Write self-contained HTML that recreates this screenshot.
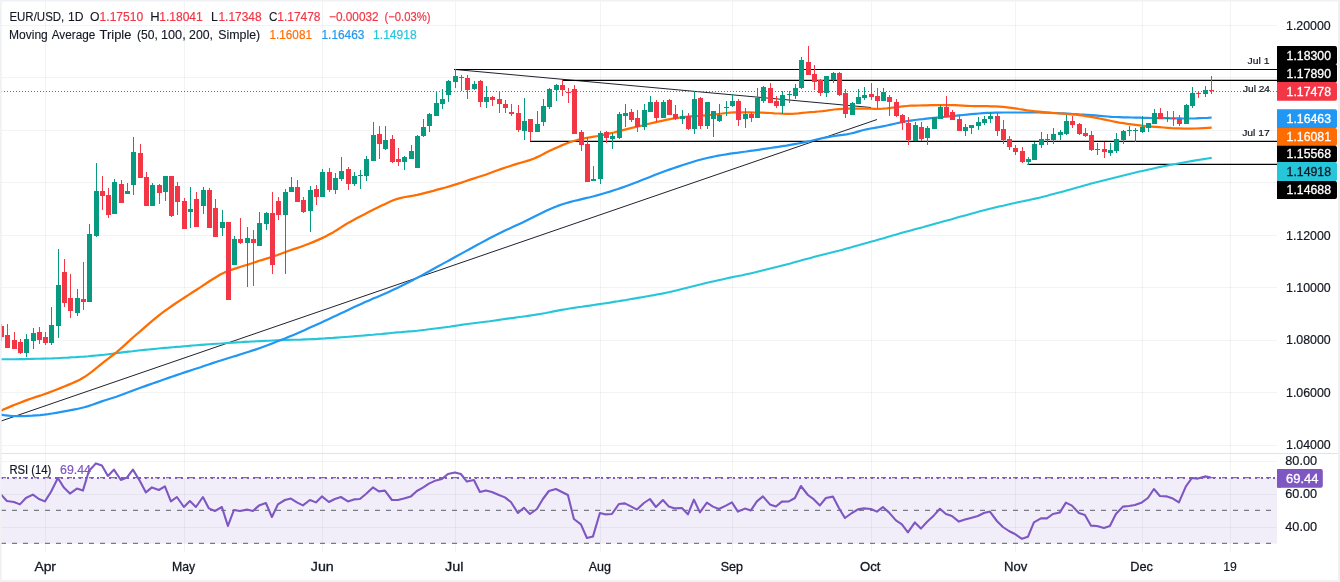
<!DOCTYPE html>
<html><head><meta charset="utf-8"><title>EUR/USD</title>
<style>html,body{margin:0;padding:0;background:#fff;overflow:hidden}body{width:1340px;height:582px;font-family:"Liberation Sans",sans-serif}</style></head>
<body>
<svg width="1340" height="582" viewBox="0 0 1340 582" style="display:block">
<rect x="0" y="0" width="1340" height="582" fill="#ffffff"/>
<rect x="0" y="478.0" width="1277" height="65.6" fill="#f2eef9"/>
<g shape-rendering="crispEdges">
<rect x="45" y="0" width="1" height="552" fill="#2a2e39" fill-opacity="0.06"/>
<rect x="184" y="0" width="1" height="552" fill="#2a2e39" fill-opacity="0.06"/>
<rect x="322" y="0" width="1" height="552" fill="#2a2e39" fill-opacity="0.06"/>
<rect x="455" y="0" width="1" height="552" fill="#2a2e39" fill-opacity="0.06"/>
<rect x="600" y="0" width="1" height="552" fill="#2a2e39" fill-opacity="0.06"/>
<rect x="732" y="0" width="1" height="552" fill="#2a2e39" fill-opacity="0.06"/>
<rect x="871" y="0" width="1" height="552" fill="#2a2e39" fill-opacity="0.06"/>
<rect x="1015" y="0" width="1" height="552" fill="#2a2e39" fill-opacity="0.06"/>
<rect x="1142" y="0" width="1" height="552" fill="#2a2e39" fill-opacity="0.06"/>
<rect x="1230" y="0" width="1" height="552" fill="#2a2e39" fill-opacity="0.06"/>
<rect x="0" y="25" width="1277" height="1" fill="#2a2e39" fill-opacity="0.06"/>
<rect x="0" y="77" width="1277" height="1" fill="#2a2e39" fill-opacity="0.06"/>
<rect x="0" y="130" width="1277" height="1" fill="#2a2e39" fill-opacity="0.06"/>
<rect x="0" y="182" width="1277" height="1" fill="#2a2e39" fill-opacity="0.06"/>
<rect x="0" y="235" width="1277" height="1" fill="#2a2e39" fill-opacity="0.06"/>
<rect x="0" y="287" width="1277" height="1" fill="#2a2e39" fill-opacity="0.06"/>
<rect x="0" y="340" width="1277" height="1" fill="#2a2e39" fill-opacity="0.06"/>
<rect x="0" y="392" width="1277" height="1" fill="#2a2e39" fill-opacity="0.06"/>
<rect x="0" y="445" width="1277" height="1" fill="#2a2e39" fill-opacity="0.06"/>
<rect x="0" y="461" width="1277" height="1" fill="#2a2e39" fill-opacity="0.06"/>
<rect x="0" y="494" width="1277" height="1" fill="#2a2e39" fill-opacity="0.06"/>
<rect x="0" y="527" width="1277" height="1" fill="#2a2e39" fill-opacity="0.06"/>
<rect x="0" y="453" width="1340" height="1" fill="#e0e3eb"/>
</g>
<line x1="0" y1="421.4" x2="877" y2="119.5" stroke="#1e222d" stroke-width="1.0"/>
<line x1="454" y1="69.4" x2="871" y2="107.5" stroke="#1e222d" stroke-width="1.0"/>
<line x1="454" y1="69.46" x2="1277" y2="69.46" stroke="#000" stroke-width="1.17"/>
<line x1="562" y1="80.44" x2="1277" y2="80.44" stroke="#000" stroke-width="1.17"/>
<line x1="530" y1="141.45" x2="1277" y2="141.45" stroke="#000" stroke-width="1.17"/>
<line x1="1027.5" y1="164.45" x2="1277" y2="164.45" stroke="#000" stroke-width="1.17"/>
<polyline points="0.0,359.3 4.0,359.3 8.0,359.2 12.0,359.2 16.0,359.2 20.1,359.1 24.1,359.1 28.1,359.0 32.1,358.9 36.1,358.8 40.1,358.7 44.1,358.6 48.1,358.5 52.2,358.4 56.2,358.2 60.2,358.0 64.2,357.8 68.2,357.6 72.2,357.3 76.2,357.1 80.2,356.8 84.3,356.6 88.3,356.3 92.3,355.9 96.3,355.5 100.3,355.1 104.3,354.7 108.3,354.2 112.3,353.7 116.4,353.1 120.4,352.6 124.4,352.1 128.4,351.6 132.4,351.2 136.4,350.7 140.4,350.3 144.4,349.9 148.5,349.5 152.5,349.1 156.5,348.7 160.5,348.3 164.5,347.9 168.5,347.6 172.5,347.2 176.5,346.9 180.6,346.6 184.6,346.2 188.6,345.9 192.6,345.5 196.6,345.2 200.6,344.9 204.6,344.6 208.6,344.3 212.6,344.0 216.7,343.7 220.7,343.5 224.7,343.2 228.7,342.9 232.7,342.7 236.7,342.4 240.7,342.2 244.7,341.9 248.8,341.7 252.8,341.5 256.8,341.3 260.8,341.1 264.8,340.9 268.8,340.7 272.8,340.5 276.8,340.3 280.9,340.2 284.9,340.0 288.9,339.9 292.9,339.8 296.9,339.7 300.9,339.6 304.9,339.4 308.9,339.3 313.0,339.1 317.0,338.9 321.0,338.6 325.0,338.4 329.0,338.1 333.0,337.9 337.0,337.6 341.0,337.3 345.1,337.0 349.1,336.7 353.1,336.4 357.1,336.0 361.1,335.7 365.1,335.4 369.1,335.0 373.1,334.7 377.2,334.3 381.2,334.0 385.2,333.6 389.2,333.2 393.2,332.8 397.2,332.4 401.2,332.1 405.2,331.7 409.2,331.4 413.3,331.1 417.3,330.7 421.3,330.2 425.3,329.8 429.3,329.3 433.3,328.8 437.3,328.3 441.3,327.8 445.4,327.2 449.4,326.7 453.4,326.1 457.4,325.5 461.4,324.9 465.4,324.3 469.4,323.8 473.4,323.3 477.5,322.8 481.5,322.3 485.5,321.8 489.5,321.3 493.5,320.7 497.5,320.1 501.5,319.5 505.5,318.9 509.6,318.4 513.6,317.9 517.6,317.3 521.6,316.8 525.6,316.2 529.6,315.6 533.6,315.0 537.6,314.4 541.7,313.7 545.7,313.0 549.7,312.2 553.7,311.4 557.7,310.6 561.7,309.9 565.7,309.2 569.7,308.5 573.8,307.9 577.8,307.2 581.8,306.7 585.8,306.1 589.8,305.6 593.8,305.0 597.8,304.4 601.8,303.8 605.9,303.2 609.9,302.6 613.9,301.9 617.9,301.3 621.9,300.6 625.9,300.0 629.9,299.3 633.9,298.6 637.9,297.9 642.0,297.2 646.0,296.5 650.0,295.8 654.0,295.1 658.0,294.3 662.0,293.6 666.0,292.8 670.0,291.9 674.1,291.0 678.1,290.1 682.1,289.1 686.1,288.1 690.1,287.1 694.1,286.1 698.1,285.1 702.1,284.1 706.2,283.1 710.2,282.1 714.2,281.2 718.2,280.3 722.2,279.4 726.2,278.5 730.2,277.6 734.2,276.8 738.3,276.0 742.3,275.2 746.3,274.3 750.3,273.4 754.3,272.5 758.3,271.5 762.3,270.6 766.3,269.6 770.4,268.6 774.4,267.6 778.4,266.6 782.4,265.5 786.4,264.4 790.4,263.4 794.4,262.3 798.4,261.2 802.5,260.1 806.5,259.0 810.5,257.9 814.5,256.8 818.5,255.7 822.5,254.7 826.5,253.8 830.5,252.8 834.5,251.8 838.6,250.8 842.6,249.7 846.6,248.6 850.6,247.5 854.6,246.3 858.6,245.2 862.6,244.1 866.6,243.0 870.7,241.8 874.7,240.7 878.7,239.5 882.7,238.4 886.7,237.2 890.7,236.1 894.7,234.9 898.7,233.8 902.8,232.6 906.8,231.5 910.8,230.4 914.8,229.3 918.8,228.2 922.8,227.2 926.8,226.1 930.8,225.0 934.9,223.8 938.9,222.7 942.9,221.6 946.9,220.5 950.9,219.4 954.9,218.2 958.9,217.1 962.9,216.0 967.0,214.9 971.0,213.8 975.0,212.7 979.0,211.6 983.0,210.6 987.0,209.6 991.0,208.6 995.0,207.6 999.1,206.6 1003.1,205.7 1007.1,204.7 1011.1,203.8 1015.1,202.9 1019.1,202.0 1023.1,201.2 1027.1,200.4 1031.1,199.5 1035.2,198.6 1039.2,197.7 1043.2,196.7 1047.2,195.7 1051.2,194.6 1055.2,193.6 1059.2,192.5 1063.2,191.4 1067.3,190.3 1071.3,189.2 1075.3,188.1 1079.3,187.0 1083.3,185.8 1087.3,184.7 1091.3,183.6 1095.3,182.5 1099.4,181.5 1103.4,180.4 1107.4,179.4 1111.4,178.4 1115.4,177.4 1119.4,176.4 1123.4,175.4 1127.4,174.5 1131.5,173.5 1135.5,172.5 1139.5,171.6 1143.5,170.7 1147.5,169.8 1151.5,168.9 1155.5,168.0 1159.5,167.1 1163.6,166.3 1167.6,165.5 1171.6,164.7 1175.6,164.0 1179.6,163.2 1183.6,162.5 1187.6,161.8 1191.6,161.1 1195.7,160.4 1199.7,159.7 1203.7,159.1 1207.7,158.5 1211.7,157.9" fill="none" stroke="#26C6DA" stroke-width="2.1" stroke-linejoin="round" stroke-linecap="butt"/>
<polyline points="0.0,414.7 4.0,415.2 8.0,415.6 12.0,416.0 16.0,416.2 20.1,416.2 24.1,416.1 28.1,415.9 32.1,415.7 36.1,415.4 40.1,415.1 44.1,414.7 48.1,414.2 52.2,413.5 56.2,412.8 60.2,412.1 64.2,411.4 68.2,410.7 72.2,409.9 76.2,409.2 80.2,408.3 84.3,407.3 88.3,406.1 92.3,404.8 96.3,403.4 100.3,401.9 104.3,400.5 108.3,399.2 112.3,398.0 116.4,396.7 120.4,395.3 124.4,393.8 128.4,392.3 132.4,390.7 136.4,389.2 140.4,387.8 144.4,386.4 148.5,384.9 152.5,383.5 156.5,382.1 160.5,380.7 164.5,379.3 168.5,377.9 172.5,376.5 176.5,375.1 180.6,373.8 184.6,372.4 188.6,371.1 192.6,369.8 196.6,368.5 200.6,367.2 204.6,365.8 208.6,364.5 212.6,363.1 216.7,361.8 220.7,360.5 224.7,359.3 228.7,358.0 232.7,356.8 236.7,355.6 240.7,354.3 244.7,353.0 248.8,351.7 252.8,350.4 256.8,349.1 260.8,347.7 264.8,346.3 268.8,344.8 272.8,343.2 276.8,341.6 280.9,340.0 284.9,338.5 288.9,336.8 292.9,335.2 296.9,333.5 300.9,331.7 304.9,329.9 308.9,328.1 313.0,326.3 317.0,324.5 321.0,322.7 325.0,320.8 329.0,319.0 333.0,317.1 337.0,315.2 341.0,313.3 345.1,311.4 349.1,309.5 353.1,307.6 357.1,305.7 361.1,303.9 365.1,302.1 369.1,300.4 373.1,298.6 377.2,297.0 381.2,295.3 385.2,293.5 389.2,291.7 393.2,289.8 397.2,287.9 401.2,285.9 405.2,283.9 409.2,281.9 413.3,279.9 417.3,277.8 421.3,275.6 425.3,273.4 429.3,271.2 433.3,269.0 437.3,266.8 441.3,264.6 445.4,262.4 449.4,260.2 453.4,258.0 457.4,255.8 461.4,253.6 465.4,251.4 469.4,249.2 473.4,247.0 477.5,244.8 481.5,242.6 485.5,240.5 489.5,238.3 493.5,236.3 497.5,234.3 501.5,232.3 505.5,230.3 509.6,228.4 513.6,226.6 517.6,224.8 521.6,222.9 525.6,221.0 529.6,219.1 533.6,217.1 537.6,215.1 541.7,213.1 545.7,211.1 549.7,209.2 553.7,207.5 557.7,205.9 561.7,204.5 565.7,203.3 569.7,202.1 573.8,201.0 577.8,200.1 581.8,199.1 585.8,198.1 589.8,197.2 593.8,196.2 597.8,195.1 601.8,194.0 605.9,192.8 609.9,191.6 613.9,190.3 617.9,189.0 621.9,187.6 625.9,186.2 629.9,184.7 633.9,183.2 637.9,181.7 642.0,180.1 646.0,178.5 650.0,176.9 654.0,175.3 658.0,173.8 662.0,172.3 666.0,170.8 670.0,169.4 674.1,168.0 678.1,166.6 682.1,165.3 686.1,164.0 690.1,162.7 694.1,161.5 698.1,160.3 702.1,159.2 706.2,158.2 710.2,157.3 714.2,156.5 718.2,155.7 722.2,155.0 726.2,154.4 730.2,153.7 734.2,153.1 738.3,152.6 742.3,152.0 746.3,151.5 750.3,150.9 754.3,150.4 758.3,149.8 762.3,149.2 766.3,148.6 770.4,148.0 774.4,147.4 778.4,146.8 782.4,146.2 786.4,145.6 790.4,144.9 794.4,144.2 798.4,143.5 802.5,142.7 806.5,141.9 810.5,141.0 814.5,140.0 818.5,139.0 822.5,138.1 826.5,137.3 830.5,136.6 834.5,136.0 838.6,135.4 842.6,134.9 846.6,134.3 850.6,133.5 854.6,132.6 858.6,131.4 862.6,130.3 866.6,129.3 870.7,128.5 874.7,127.8 878.7,127.1 882.7,126.3 886.7,125.5 890.7,124.6 894.7,123.7 898.7,122.8 902.8,122.0 906.8,121.2 910.8,120.6 914.8,120.0 918.8,119.5 922.8,119.1 926.8,118.6 930.8,118.2 934.9,117.8 938.9,117.4 942.9,117.0 946.9,116.6 950.9,116.2 954.9,115.8 958.9,115.4 962.9,115.0 967.0,114.6 971.0,114.2 975.0,113.8 979.0,113.5 983.0,113.2 987.0,112.9 991.0,112.8 995.0,112.6 999.1,112.6 1003.1,112.5 1007.1,112.5 1011.1,112.5 1015.1,112.5 1019.1,112.5 1023.1,112.5 1027.1,112.5 1031.1,112.5 1035.2,112.5 1039.2,112.5 1043.2,112.6 1047.2,112.7 1051.2,112.8 1055.2,113.0 1059.2,113.2 1063.2,113.3 1067.3,113.5 1071.3,113.8 1075.3,114.0 1079.3,114.3 1083.3,114.5 1087.3,114.8 1091.3,115.1 1095.3,115.4 1099.4,115.8 1103.4,116.2 1107.4,116.5 1111.4,116.8 1115.4,117.0 1119.4,117.1 1123.4,117.3 1127.4,117.4 1131.5,117.5 1135.5,117.6 1139.5,117.7 1143.5,117.8 1147.5,117.9 1151.5,118.0 1155.5,118.1 1159.5,118.1 1163.6,118.2 1167.6,118.2 1171.6,118.3 1175.6,118.3 1179.6,118.4 1183.6,118.5 1187.6,118.5 1191.6,118.5 1195.7,118.4 1199.7,118.2 1203.7,118.0 1207.7,117.8 1211.7,117.5" fill="none" stroke="#2196F3" stroke-width="2.2" stroke-linejoin="round" stroke-linecap="butt"/>
<polyline points="0.0,411.1 4.0,409.3 8.0,407.6 12.0,405.9 16.0,404.3 20.1,402.7 24.1,401.1 28.1,399.6 32.1,398.2 36.1,396.9 40.1,395.7 44.1,394.3 48.1,392.9 52.2,391.3 56.2,389.7 60.2,388.1 64.2,386.5 68.2,384.9 72.2,383.2 76.2,381.4 80.2,379.4 84.3,377.1 88.3,374.4 92.3,371.4 96.3,368.2 100.3,364.9 104.3,361.7 108.3,358.6 112.3,355.5 116.4,352.3 120.4,348.9 124.4,345.3 128.4,341.6 132.4,338.0 136.4,334.5 140.4,331.2 144.4,327.7 148.5,324.2 152.5,320.7 156.5,317.3 160.5,314.2 164.5,311.2 168.5,308.3 172.5,305.5 176.5,302.8 180.6,300.1 184.6,297.5 188.6,294.9 192.6,292.3 196.6,289.7 200.6,287.1 204.6,284.5 208.6,281.8 212.6,279.2 216.7,276.7 220.7,274.3 224.7,272.4 228.7,270.8 232.7,269.4 236.7,268.1 240.7,266.8 244.7,265.5 248.8,264.3 252.8,263.0 256.8,261.6 260.8,260.3 264.8,259.1 268.8,257.9 272.8,256.6 276.8,255.3 280.9,253.8 284.9,252.3 288.9,250.8 292.9,249.4 296.9,248.1 300.9,246.8 304.9,245.3 308.9,243.8 313.0,242.1 317.0,240.4 321.0,238.6 325.0,236.7 329.0,234.6 333.0,232.4 337.0,230.0 341.0,227.4 345.1,224.8 349.1,222.4 353.1,220.2 357.1,218.0 361.1,215.9 365.1,213.9 369.1,211.8 373.1,209.8 377.2,207.8 381.2,205.8 385.2,203.9 389.2,202.0 393.2,200.3 397.2,198.9 401.2,197.8 405.2,197.0 409.2,196.3 413.3,195.6 417.3,194.8 421.3,193.9 425.3,192.9 429.3,191.9 433.3,190.9 437.3,189.7 441.3,188.6 445.4,187.5 449.4,186.3 453.4,185.1 457.4,183.9 461.4,182.6 465.4,181.2 469.4,179.9 473.4,178.6 477.5,177.3 481.5,176.0 485.5,174.7 489.5,173.2 493.5,171.7 497.5,170.3 501.5,168.9 505.5,167.5 509.6,166.2 513.6,164.9 517.6,163.7 521.6,162.5 525.6,161.4 529.6,160.1 533.6,158.7 537.6,156.9 541.7,154.9 545.7,152.8 549.7,150.8 553.7,148.9 557.7,147.2 561.7,145.4 565.7,143.8 569.7,142.3 573.8,141.0 577.8,139.9 581.8,138.9 585.8,138.0 589.8,137.3 593.8,136.6 597.8,136.0 601.8,135.2 605.9,134.3 609.9,133.4 613.9,132.5 617.9,131.4 621.9,130.4 625.9,129.3 629.9,128.3 633.9,127.4 637.9,126.4 642.0,125.5 646.0,124.5 650.0,123.5 654.0,122.6 658.0,121.7 662.0,120.8 666.0,119.9 670.0,119.1 674.1,118.4 678.1,117.8 682.1,117.2 686.1,116.8 690.1,116.4 694.1,116.1 698.1,115.9 702.1,115.6 706.2,115.3 710.2,115.0 714.2,114.5 718.2,114.0 722.2,113.5 726.2,113.0 730.2,112.6 734.2,112.4 738.3,112.3 742.3,112.3 746.3,112.4 750.3,112.4 754.3,112.5 758.3,112.6 762.3,112.7 766.3,112.8 770.4,113.0 774.4,113.3 778.4,113.5 782.4,113.7 786.4,113.8 790.4,113.8 794.4,113.7 798.4,113.4 802.5,112.9 806.5,112.5 810.5,112.2 814.5,111.9 818.5,111.5 822.5,111.1 826.5,110.6 830.5,110.0 834.5,109.5 838.6,109.2 842.6,108.9 846.6,108.7 850.6,108.6 854.6,108.5 858.6,108.5 862.6,108.5 866.6,108.6 870.7,108.7 874.7,108.8 878.7,108.8 882.7,108.6 886.7,108.3 890.7,107.9 894.7,107.4 898.7,106.9 902.8,106.4 906.8,106.0 910.8,105.7 914.8,105.6 918.8,105.5 922.8,105.4 926.8,105.3 930.8,105.2 934.9,105.2 938.9,105.1 942.9,105.0 946.9,105.0 950.9,105.1 954.9,105.2 958.9,105.4 962.9,105.6 967.0,105.8 971.0,106.0 975.0,106.1 979.0,106.2 983.0,106.2 987.0,106.2 991.0,106.3 995.0,106.4 999.1,106.6 1003.1,106.9 1007.1,107.3 1011.1,107.8 1015.1,108.3 1019.1,109.0 1023.1,109.6 1027.1,110.3 1031.1,110.8 1035.2,111.3 1039.2,111.7 1043.2,112.1 1047.2,112.5 1051.2,112.9 1055.2,113.2 1059.2,113.5 1063.2,113.7 1067.3,114.0 1071.3,114.3 1075.3,114.7 1079.3,115.2 1083.3,115.7 1087.3,116.3 1091.3,116.9 1095.3,117.7 1099.4,118.5 1103.4,119.3 1107.4,120.2 1111.4,121.0 1115.4,121.8 1119.4,122.6 1123.4,123.2 1127.4,123.8 1131.5,124.3 1135.5,124.8 1139.5,125.3 1143.5,125.8 1147.5,126.3 1151.5,126.6 1155.5,126.9 1159.5,127.2 1163.6,127.5 1167.6,127.8 1171.6,128.1 1175.6,128.3 1179.6,128.4 1183.6,128.6 1187.6,128.6 1191.6,128.6 1195.7,128.5 1199.7,128.3 1203.7,128.1 1207.7,127.9 1211.7,127.7" fill="none" stroke="#FF6D00" stroke-width="2.25" stroke-linejoin="round" stroke-linecap="butt"/>
<g shape-rendering="crispEdges">
<rect x="1" y="324" width="1" height="17" fill="#F23645"/>
<rect x="-1" y="326" width="5" height="11" fill="#F23645"/>
<rect x="7" y="324" width="1" height="24" fill="#F23645"/>
<rect x="5" y="335" width="5" height="13" fill="#F23645"/>
<rect x="14" y="332" width="1" height="17" fill="#F23645"/>
<rect x="12" y="340" width="5" height="9" fill="#F23645"/>
<rect x="20" y="339" width="1" height="15" fill="#F23645"/>
<rect x="18" y="342" width="5" height="11" fill="#F23645"/>
<rect x="26" y="334" width="1" height="23" fill="#089981"/>
<rect x="24" y="339" width="5" height="14" fill="#089981"/>
<rect x="33" y="328" width="1" height="21" fill="#089981"/>
<rect x="31" y="333" width="5" height="8" fill="#089981"/>
<rect x="39" y="327" width="1" height="17" fill="#F23645"/>
<rect x="37" y="332" width="5" height="8" fill="#F23645"/>
<rect x="45" y="332" width="1" height="13" fill="#F23645"/>
<rect x="43" y="337" width="5" height="6" fill="#F23645"/>
<rect x="51" y="307" width="1" height="38" fill="#089981"/>
<rect x="49" y="325" width="5" height="18" fill="#089981"/>
<rect x="58" y="249" width="1" height="89" fill="#089981"/>
<rect x="56" y="285" width="5" height="41" fill="#089981"/>
<rect x="64" y="259" width="1" height="48" fill="#F23645"/>
<rect x="62" y="272" width="5" height="31" fill="#F23645"/>
<rect x="70" y="274" width="1" height="44" fill="#F23645"/>
<rect x="68" y="298" width="5" height="13" fill="#F23645"/>
<rect x="77" y="289" width="1" height="27" fill="#089981"/>
<rect x="75" y="298" width="5" height="15" fill="#089981"/>
<rect x="83" y="262" width="1" height="48" fill="#F23645"/>
<rect x="81" y="299" width="5" height="3" fill="#F23645"/>
<rect x="89" y="224" width="1" height="78" fill="#089981"/>
<rect x="87" y="234" width="5" height="68" fill="#089981"/>
<rect x="96" y="163" width="1" height="74" fill="#089981"/>
<rect x="94" y="191" width="5" height="45" fill="#089981"/>
<rect x="102" y="176" width="1" height="34" fill="#F23645"/>
<rect x="100" y="191" width="5" height="5" fill="#F23645"/>
<rect x="108" y="188" width="1" height="30" fill="#F23645"/>
<rect x="106" y="195" width="5" height="20" fill="#F23645"/>
<rect x="114" y="179" width="1" height="35" fill="#089981"/>
<rect x="112" y="182" width="5" height="32" fill="#089981"/>
<rect x="121" y="180" width="1" height="23" fill="#F23645"/>
<rect x="119" y="184" width="5" height="19" fill="#F23645"/>
<rect x="127" y="183" width="1" height="11" fill="#089981"/>
<rect x="125" y="191" width="5" height="3" fill="#089981"/>
<rect x="133" y="137" width="1" height="58" fill="#089981"/>
<rect x="131" y="152" width="5" height="33" fill="#089981"/>
<rect x="140" y="144" width="1" height="34" fill="#F23645"/>
<rect x="138" y="153" width="5" height="25" fill="#F23645"/>
<rect x="146" y="172" width="1" height="34" fill="#F23645"/>
<rect x="144" y="177" width="5" height="29" fill="#F23645"/>
<rect x="152" y="183" width="1" height="23" fill="#089981"/>
<rect x="150" y="185" width="5" height="21" fill="#089981"/>
<rect x="159" y="184" width="1" height="20" fill="#F23645"/>
<rect x="157" y="185" width="5" height="8" fill="#F23645"/>
<rect x="165" y="176" width="1" height="25" fill="#089981"/>
<rect x="163" y="176" width="5" height="16" fill="#089981"/>
<rect x="171" y="176" width="1" height="41" fill="#F23645"/>
<rect x="169" y="176" width="5" height="40" fill="#F23645"/>
<rect x="177" y="182" width="1" height="33" fill="#F23645"/>
<rect x="175" y="186" width="5" height="16" fill="#F23645"/>
<rect x="184" y="198" width="1" height="31" fill="#F23645"/>
<rect x="182" y="201" width="5" height="28" fill="#F23645"/>
<rect x="190" y="187" width="1" height="41" fill="#089981"/>
<rect x="188" y="209" width="5" height="3" fill="#089981"/>
<rect x="196" y="192" width="1" height="35" fill="#F23645"/>
<rect x="194" y="199" width="5" height="28" fill="#F23645"/>
<rect x="203" y="187" width="1" height="27" fill="#089981"/>
<rect x="201" y="190" width="5" height="16" fill="#089981"/>
<rect x="209" y="188" width="1" height="40" fill="#F23645"/>
<rect x="207" y="190" width="5" height="38" fill="#F23645"/>
<rect x="215" y="199" width="1" height="38" fill="#F23645"/>
<rect x="213" y="208" width="5" height="29" fill="#F23645"/>
<rect x="222" y="210" width="1" height="26" fill="#089981"/>
<rect x="220" y="222" width="5" height="6" fill="#089981"/>
<rect x="228" y="222" width="1" height="78" fill="#F23645"/>
<rect x="226" y="222" width="5" height="78" fill="#F23645"/>
<rect x="234" y="236" width="1" height="29" fill="#089981"/>
<rect x="232" y="239" width="5" height="26" fill="#089981"/>
<rect x="240" y="218" width="1" height="26" fill="#F23645"/>
<rect x="238" y="239" width="5" height="4" fill="#F23645"/>
<rect x="247" y="227" width="1" height="60" fill="#089981"/>
<rect x="245" y="238" width="5" height="5" fill="#089981"/>
<rect x="253" y="230" width="1" height="56" fill="#F23645"/>
<rect x="251" y="239" width="5" height="4" fill="#F23645"/>
<rect x="259" y="212" width="1" height="34" fill="#089981"/>
<rect x="257" y="223" width="5" height="23" fill="#089981"/>
<rect x="266" y="212" width="1" height="18" fill="#089981"/>
<rect x="264" y="213" width="5" height="11" fill="#089981"/>
<rect x="272" y="192" width="1" height="82" fill="#F23645"/>
<rect x="270" y="213" width="5" height="52" fill="#F23645"/>
<rect x="278" y="197" width="1" height="23" fill="#F23645"/>
<rect x="276" y="201" width="5" height="14" fill="#F23645"/>
<rect x="285" y="189" width="1" height="85" fill="#089981"/>
<rect x="283" y="192" width="5" height="23" fill="#089981"/>
<rect x="291" y="177" width="1" height="15" fill="#089981"/>
<rect x="289" y="187" width="5" height="5" fill="#089981"/>
<rect x="297" y="180" width="1" height="22" fill="#F23645"/>
<rect x="295" y="187" width="5" height="15" fill="#F23645"/>
<rect x="303" y="197" width="1" height="16" fill="#F23645"/>
<rect x="301" y="200" width="5" height="12" fill="#F23645"/>
<rect x="310" y="186" width="1" height="46" fill="#089981"/>
<rect x="308" y="190" width="5" height="21" fill="#089981"/>
<rect x="316" y="185" width="1" height="20" fill="#F23645"/>
<rect x="314" y="189" width="5" height="8" fill="#F23645"/>
<rect x="322" y="169" width="1" height="28" fill="#089981"/>
<rect x="320" y="172" width="5" height="25" fill="#089981"/>
<rect x="329" y="168" width="1" height="24" fill="#F23645"/>
<rect x="327" y="172" width="5" height="18" fill="#F23645"/>
<rect x="335" y="173" width="1" height="21" fill="#089981"/>
<rect x="333" y="178" width="5" height="12" fill="#089981"/>
<rect x="341" y="157" width="1" height="24" fill="#089981"/>
<rect x="339" y="171" width="5" height="8" fill="#089981"/>
<rect x="348" y="167" width="1" height="23" fill="#F23645"/>
<rect x="346" y="169" width="5" height="15" fill="#F23645"/>
<rect x="354" y="172" width="1" height="14" fill="#089981"/>
<rect x="352" y="176" width="5" height="8" fill="#089981"/>
<rect x="360" y="170" width="1" height="19" fill="#089981"/>
<rect x="358" y="175" width="5" height="1" fill="#089981"/>
<rect x="366" y="156" width="1" height="25" fill="#089981"/>
<rect x="364" y="159" width="5" height="17" fill="#089981"/>
<rect x="373" y="122" width="1" height="39" fill="#089981"/>
<rect x="371" y="135" width="5" height="26" fill="#089981"/>
<rect x="379" y="126" width="1" height="33" fill="#F23645"/>
<rect x="377" y="134" width="5" height="10" fill="#F23645"/>
<rect x="385" y="126" width="1" height="24" fill="#089981"/>
<rect x="383" y="140" width="5" height="9" fill="#089981"/>
<rect x="392" y="135" width="1" height="28" fill="#F23645"/>
<rect x="390" y="139" width="5" height="23" fill="#F23645"/>
<rect x="398" y="148" width="1" height="18" fill="#F23645"/>
<rect x="396" y="159" width="5" height="3" fill="#F23645"/>
<rect x="404" y="156" width="1" height="14" fill="#089981"/>
<rect x="402" y="157" width="5" height="5" fill="#089981"/>
<rect x="411" y="145" width="1" height="14" fill="#089981"/>
<rect x="409" y="151" width="5" height="8" fill="#089981"/>
<rect x="417" y="135" width="1" height="33" fill="#089981"/>
<rect x="415" y="136" width="5" height="32" fill="#089981"/>
<rect x="423" y="119" width="1" height="18" fill="#089981"/>
<rect x="421" y="127" width="5" height="9" fill="#089981"/>
<rect x="429" y="113" width="1" height="19" fill="#089981"/>
<rect x="427" y="114" width="5" height="12" fill="#089981"/>
<rect x="436" y="91" width="1" height="25" fill="#089981"/>
<rect x="434" y="103" width="5" height="13" fill="#089981"/>
<rect x="442" y="89" width="1" height="20" fill="#089981"/>
<rect x="440" y="99" width="5" height="5" fill="#089981"/>
<rect x="448" y="80" width="1" height="22" fill="#089981"/>
<rect x="446" y="81" width="5" height="14" fill="#089981"/>
<rect x="455" y="69" width="1" height="19" fill="#089981"/>
<rect x="453" y="76" width="5" height="6" fill="#089981"/>
<rect x="461" y="75" width="1" height="16" fill="#F23645"/>
<rect x="459" y="77" width="5" height="1" fill="#F23645"/>
<rect x="467" y="75" width="1" height="24" fill="#F23645"/>
<rect x="465" y="78" width="5" height="12" fill="#F23645"/>
<rect x="474" y="81" width="1" height="9" fill="#089981"/>
<rect x="472" y="84" width="5" height="5" fill="#089981"/>
<rect x="480" y="80" width="1" height="27" fill="#F23645"/>
<rect x="478" y="81" width="5" height="21" fill="#F23645"/>
<rect x="486" y="86" width="1" height="22" fill="#089981"/>
<rect x="484" y="97" width="5" height="5" fill="#089981"/>
<rect x="492" y="96" width="1" height="10" fill="#F23645"/>
<rect x="490" y="97" width="5" height="3" fill="#F23645"/>
<rect x="499" y="92" width="1" height="21" fill="#F23645"/>
<rect x="497" y="99" width="5" height="5" fill="#F23645"/>
<rect x="505" y="100" width="1" height="13" fill="#F23645"/>
<rect x="503" y="104" width="5" height="4" fill="#F23645"/>
<rect x="511" y="104" width="1" height="12" fill="#F23645"/>
<rect x="509" y="112" width="5" height="2" fill="#F23645"/>
<rect x="518" y="105" width="1" height="27" fill="#F23645"/>
<rect x="516" y="113" width="5" height="17" fill="#F23645"/>
<rect x="524" y="98" width="1" height="42" fill="#089981"/>
<rect x="522" y="121" width="5" height="10" fill="#089981"/>
<rect x="530" y="119" width="1" height="22" fill="#F23645"/>
<rect x="528" y="119" width="5" height="13" fill="#F23645"/>
<rect x="537" y="111" width="1" height="21" fill="#089981"/>
<rect x="535" y="124" width="5" height="8" fill="#089981"/>
<rect x="543" y="99" width="1" height="27" fill="#089981"/>
<rect x="541" y="106" width="5" height="16" fill="#089981"/>
<rect x="549" y="88" width="1" height="21" fill="#089981"/>
<rect x="547" y="89" width="5" height="18" fill="#089981"/>
<rect x="556" y="84" width="1" height="17" fill="#089981"/>
<rect x="554" y="85" width="5" height="5" fill="#089981"/>
<rect x="562" y="80" width="1" height="16" fill="#F23645"/>
<rect x="560" y="85" width="5" height="5" fill="#F23645"/>
<rect x="568" y="88" width="1" height="15" fill="#F23645"/>
<rect x="566" y="92" width="5" height="1" fill="#F23645"/>
<rect x="574" y="85" width="1" height="49" fill="#F23645"/>
<rect x="572" y="89" width="5" height="45" fill="#F23645"/>
<rect x="581" y="130" width="1" height="21" fill="#F23645"/>
<rect x="579" y="132" width="5" height="13" fill="#F23645"/>
<rect x="587" y="137" width="1" height="45" fill="#F23645"/>
<rect x="585" y="144" width="5" height="38" fill="#F23645"/>
<rect x="593" y="166" width="1" height="15" fill="#089981"/>
<rect x="591" y="179" width="5" height="2" fill="#089981"/>
<rect x="600" y="131" width="1" height="53" fill="#089981"/>
<rect x="598" y="133" width="5" height="46" fill="#089981"/>
<rect x="606" y="131" width="1" height="12" fill="#F23645"/>
<rect x="604" y="132" width="5" height="6" fill="#F23645"/>
<rect x="612" y="133" width="1" height="16" fill="#089981"/>
<rect x="610" y="136" width="5" height="3" fill="#089981"/>
<rect x="619" y="112" width="1" height="27" fill="#089981"/>
<rect x="617" y="114" width="5" height="24" fill="#089981"/>
<rect x="625" y="104" width="1" height="23" fill="#089981"/>
<rect x="623" y="113" width="5" height="3" fill="#089981"/>
<rect x="631" y="109" width="1" height="13" fill="#F23645"/>
<rect x="629" y="112" width="5" height="8" fill="#F23645"/>
<rect x="637" y="110" width="1" height="22" fill="#F23645"/>
<rect x="635" y="118" width="5" height="9" fill="#F23645"/>
<rect x="644" y="104" width="1" height="26" fill="#089981"/>
<rect x="642" y="110" width="5" height="17" fill="#089981"/>
<rect x="650" y="96" width="1" height="16" fill="#089981"/>
<rect x="648" y="102" width="5" height="10" fill="#089981"/>
<rect x="656" y="100" width="1" height="22" fill="#F23645"/>
<rect x="654" y="102" width="5" height="16" fill="#F23645"/>
<rect x="663" y="100" width="1" height="18" fill="#089981"/>
<rect x="661" y="102" width="5" height="16" fill="#089981"/>
<rect x="669" y="99" width="1" height="16" fill="#F23645"/>
<rect x="667" y="100" width="5" height="15" fill="#F23645"/>
<rect x="675" y="105" width="1" height="15" fill="#F23645"/>
<rect x="673" y="114" width="5" height="5" fill="#F23645"/>
<rect x="682" y="110" width="1" height="14" fill="#089981"/>
<rect x="680" y="116" width="5" height="3" fill="#089981"/>
<rect x="688" y="113" width="1" height="17" fill="#F23645"/>
<rect x="686" y="116" width="5" height="13" fill="#F23645"/>
<rect x="694" y="92" width="1" height="42" fill="#089981"/>
<rect x="692" y="99" width="5" height="30" fill="#089981"/>
<rect x="700" y="97" width="1" height="32" fill="#F23645"/>
<rect x="698" y="98" width="5" height="28" fill="#F23645"/>
<rect x="707" y="102" width="1" height="27" fill="#089981"/>
<rect x="705" y="102" width="5" height="24" fill="#089981"/>
<rect x="713" y="111" width="1" height="26" fill="#089981"/>
<rect x="711" y="111" width="5" height="8" fill="#089981"/>
<rect x="719" y="104" width="1" height="18" fill="#089981"/>
<rect x="717" y="115" width="5" height="6" fill="#089981"/>
<rect x="726" y="101" width="1" height="15" fill="#089981"/>
<rect x="724" y="107" width="5" height="1" fill="#089981"/>
<rect x="732" y="94" width="1" height="13" fill="#089981"/>
<rect x="730" y="101" width="5" height="5" fill="#089981"/>
<rect x="738" y="99" width="1" height="27" fill="#F23645"/>
<rect x="736" y="101" width="5" height="19" fill="#F23645"/>
<rect x="745" y="108" width="1" height="20" fill="#089981"/>
<rect x="743" y="114" width="5" height="5" fill="#089981"/>
<rect x="751" y="112" width="1" height="10" fill="#F23645"/>
<rect x="749" y="114" width="5" height="4" fill="#F23645"/>
<rect x="757" y="88" width="1" height="30" fill="#089981"/>
<rect x="755" y="98" width="5" height="20" fill="#089981"/>
<rect x="763" y="86" width="1" height="17" fill="#089981"/>
<rect x="761" y="87" width="5" height="14" fill="#089981"/>
<rect x="770" y="83" width="1" height="20" fill="#F23645"/>
<rect x="768" y="88" width="5" height="15" fill="#F23645"/>
<rect x="776" y="96" width="1" height="12" fill="#F23645"/>
<rect x="774" y="101" width="5" height="5" fill="#F23645"/>
<rect x="782" y="91" width="1" height="23" fill="#089981"/>
<rect x="780" y="95" width="5" height="11" fill="#089981"/>
<rect x="789" y="91" width="1" height="12" fill="#089981"/>
<rect x="787" y="94" width="5" height="1" fill="#089981"/>
<rect x="795" y="84" width="1" height="15" fill="#089981"/>
<rect x="793" y="88" width="5" height="8" fill="#089981"/>
<rect x="801" y="57" width="1" height="32" fill="#089981"/>
<rect x="799" y="60" width="5" height="28" fill="#089981"/>
<rect x="808" y="46" width="1" height="29" fill="#F23645"/>
<rect x="806" y="62" width="5" height="13" fill="#F23645"/>
<rect x="814" y="65" width="1" height="25" fill="#F23645"/>
<rect x="812" y="74" width="5" height="8" fill="#F23645"/>
<rect x="820" y="79" width="1" height="17" fill="#F23645"/>
<rect x="818" y="80" width="5" height="13" fill="#F23645"/>
<rect x="826" y="76" width="1" height="21" fill="#089981"/>
<rect x="824" y="76" width="5" height="17" fill="#089981"/>
<rect x="833" y="72" width="1" height="11" fill="#089981"/>
<rect x="831" y="73" width="5" height="7" fill="#089981"/>
<rect x="839" y="72" width="1" height="24" fill="#F23645"/>
<rect x="837" y="73" width="5" height="22" fill="#F23645"/>
<rect x="845" y="89" width="1" height="29" fill="#F23645"/>
<rect x="843" y="93" width="5" height="21" fill="#F23645"/>
<rect x="852" y="102" width="1" height="13" fill="#089981"/>
<rect x="850" y="103" width="5" height="12" fill="#089981"/>
<rect x="858" y="89" width="1" height="15" fill="#089981"/>
<rect x="856" y="97" width="5" height="7" fill="#089981"/>
<rect x="864" y="87" width="1" height="13" fill="#089981"/>
<rect x="862" y="95" width="5" height="3" fill="#089981"/>
<rect x="871" y="83" width="1" height="17" fill="#F23645"/>
<rect x="869" y="94" width="5" height="3" fill="#F23645"/>
<rect x="877" y="88" width="1" height="20" fill="#F23645"/>
<rect x="875" y="96" width="5" height="5" fill="#F23645"/>
<rect x="883" y="88" width="1" height="13" fill="#089981"/>
<rect x="881" y="92" width="5" height="9" fill="#089981"/>
<rect x="889" y="95" width="1" height="21" fill="#F23645"/>
<rect x="887" y="97" width="5" height="5" fill="#F23645"/>
<rect x="896" y="99" width="1" height="18" fill="#F23645"/>
<rect x="894" y="102" width="5" height="14" fill="#F23645"/>
<rect x="902" y="114" width="1" height="16" fill="#F23645"/>
<rect x="900" y="115" width="5" height="8" fill="#F23645"/>
<rect x="908" y="117" width="1" height="28" fill="#F23645"/>
<rect x="906" y="123" width="5" height="17" fill="#F23645"/>
<rect x="915" y="122" width="1" height="19" fill="#089981"/>
<rect x="913" y="125" width="5" height="16" fill="#089981"/>
<rect x="921" y="122" width="1" height="19" fill="#F23645"/>
<rect x="919" y="127" width="5" height="12" fill="#F23645"/>
<rect x="927" y="126" width="1" height="19" fill="#089981"/>
<rect x="925" y="128" width="5" height="10" fill="#089981"/>
<rect x="934" y="117" width="1" height="12" fill="#089981"/>
<rect x="932" y="117" width="5" height="12" fill="#089981"/>
<rect x="940" y="105" width="1" height="14" fill="#089981"/>
<rect x="938" y="107" width="5" height="12" fill="#089981"/>
<rect x="946" y="96" width="1" height="21" fill="#F23645"/>
<rect x="944" y="107" width="5" height="10" fill="#F23645"/>
<rect x="952" y="110" width="1" height="10" fill="#F23645"/>
<rect x="950" y="112" width="5" height="8" fill="#F23645"/>
<rect x="959" y="115" width="1" height="16" fill="#F23645"/>
<rect x="957" y="119" width="5" height="12" fill="#F23645"/>
<rect x="965" y="124" width="1" height="12" fill="#089981"/>
<rect x="963" y="127" width="5" height="4" fill="#089981"/>
<rect x="971" y="125" width="1" height="9" fill="#089981"/>
<rect x="969" y="125" width="5" height="3" fill="#089981"/>
<rect x="978" y="117" width="1" height="13" fill="#089981"/>
<rect x="976" y="122" width="5" height="4" fill="#089981"/>
<rect x="984" y="116" width="1" height="9" fill="#089981"/>
<rect x="982" y="119" width="5" height="4" fill="#089981"/>
<rect x="990" y="112" width="1" height="11" fill="#089981"/>
<rect x="988" y="116" width="5" height="3" fill="#089981"/>
<rect x="997" y="113" width="1" height="23" fill="#F23645"/>
<rect x="995" y="116" width="5" height="15" fill="#F23645"/>
<rect x="1003" y="120" width="1" height="24" fill="#F23645"/>
<rect x="1001" y="129" width="5" height="11" fill="#F23645"/>
<rect x="1009" y="136" width="1" height="14" fill="#F23645"/>
<rect x="1007" y="139" width="5" height="8" fill="#F23645"/>
<rect x="1015" y="145" width="1" height="10" fill="#F23645"/>
<rect x="1013" y="148" width="5" height="4" fill="#F23645"/>
<rect x="1022" y="147" width="1" height="16" fill="#F23645"/>
<rect x="1020" y="151" width="5" height="11" fill="#F23645"/>
<rect x="1028" y="157" width="1" height="8" fill="#089981"/>
<rect x="1026" y="159" width="5" height="3" fill="#089981"/>
<rect x="1034" y="142" width="1" height="18" fill="#089981"/>
<rect x="1032" y="144" width="5" height="16" fill="#089981"/>
<rect x="1041" y="132" width="1" height="16" fill="#089981"/>
<rect x="1039" y="139" width="5" height="6" fill="#089981"/>
<rect x="1047" y="134" width="1" height="11" fill="#089981"/>
<rect x="1045" y="139" width="5" height="1" fill="#089981"/>
<rect x="1053" y="128" width="1" height="16" fill="#089981"/>
<rect x="1051" y="134" width="5" height="6" fill="#089981"/>
<rect x="1060" y="130" width="1" height="10" fill="#089981"/>
<rect x="1058" y="132" width="5" height="3" fill="#089981"/>
<rect x="1066" y="115" width="1" height="20" fill="#089981"/>
<rect x="1064" y="121" width="5" height="13" fill="#089981"/>
<rect x="1072" y="116" width="1" height="12" fill="#F23645"/>
<rect x="1070" y="121" width="5" height="4" fill="#F23645"/>
<rect x="1079" y="123" width="1" height="12" fill="#F23645"/>
<rect x="1077" y="124" width="5" height="10" fill="#F23645"/>
<rect x="1085" y="128" width="1" height="9" fill="#F23645"/>
<rect x="1083" y="133" width="5" height="3" fill="#F23645"/>
<rect x="1091" y="131" width="1" height="20" fill="#F23645"/>
<rect x="1089" y="135" width="5" height="15" fill="#F23645"/>
<rect x="1097" y="143" width="1" height="12" fill="#089981"/>
<rect x="1095" y="149" width="5" height="1" fill="#089981"/>
<rect x="1104" y="142" width="1" height="16" fill="#F23645"/>
<rect x="1102" y="149" width="5" height="3" fill="#F23645"/>
<rect x="1110" y="143" width="1" height="13" fill="#089981"/>
<rect x="1108" y="150" width="5" height="3" fill="#089981"/>
<rect x="1116" y="133" width="1" height="20" fill="#089981"/>
<rect x="1114" y="139" width="5" height="12" fill="#089981"/>
<rect x="1123" y="130" width="1" height="14" fill="#089981"/>
<rect x="1121" y="131" width="5" height="9" fill="#089981"/>
<rect x="1129" y="126" width="1" height="10" fill="#089981"/>
<rect x="1127" y="130" width="5" height="1" fill="#089981"/>
<rect x="1135" y="128" width="1" height="14" fill="#089981"/>
<rect x="1133" y="130" width="5" height="1" fill="#089981"/>
<rect x="1142" y="116" width="1" height="17" fill="#089981"/>
<rect x="1140" y="127" width="5" height="5" fill="#089981"/>
<rect x="1148" y="123" width="1" height="9" fill="#089981"/>
<rect x="1146" y="123" width="5" height="5" fill="#089981"/>
<rect x="1154" y="109" width="1" height="15" fill="#089981"/>
<rect x="1152" y="113" width="5" height="11" fill="#089981"/>
<rect x="1160" y="108" width="1" height="11" fill="#F23645"/>
<rect x="1158" y="113" width="5" height="6" fill="#F23645"/>
<rect x="1167" y="111" width="1" height="11" fill="#089981"/>
<rect x="1165" y="118" width="5" height="1" fill="#089981"/>
<rect x="1173" y="111" width="1" height="15" fill="#F23645"/>
<rect x="1171" y="118" width="5" height="1" fill="#F23645"/>
<rect x="1179" y="115" width="1" height="11" fill="#F23645"/>
<rect x="1177" y="119" width="5" height="5" fill="#F23645"/>
<rect x="1186" y="104" width="1" height="20" fill="#089981"/>
<rect x="1184" y="105" width="5" height="19" fill="#089981"/>
<rect x="1192" y="87" width="1" height="21" fill="#089981"/>
<rect x="1190" y="93" width="5" height="13" fill="#089981"/>
<rect x="1198" y="91" width="1" height="7" fill="#F23645"/>
<rect x="1196" y="93" width="5" height="1" fill="#F23645"/>
<rect x="1205" y="86" width="1" height="11" fill="#089981"/>
<rect x="1203" y="90" width="5" height="4" fill="#089981"/>
<rect x="1211" y="76" width="1" height="18" fill="#F23645"/>
<rect x="1209" y="90" width="5" height="1" fill="#F23645"/>
</g>
<line x1="1" y1="91.5" x2="1277" y2="91.5" stroke="#F23645" stroke-width="1" stroke-dasharray="1 2" shape-rendering="crispEdges"/>
<path d="M1277,46 H1335 Q1337,46 1337,48 V62.599999999999994 Q1337,64.6 1335,64.6 H1277 Z" fill="#000000"/>
<path d="M1277,64 H1335 Q1337,64 1337,66 V80.4 Q1337,82.4 1335,82.4 H1277 Z" fill="#000000"/>
<path d="M1277,82.1 H1335 Q1337,82.1 1337,84.1 V98.8 Q1337,100.8 1335,100.8 H1277 Z" fill="#F23645"/>
<path d="M1277,109.2 H1335 Q1337,109.2 1337,111.2 V126.30000000000001 Q1337,128.3 1335,128.3 H1277 Z" fill="#2196F3"/>
<path d="M1277,128 H1335 Q1337,128 1337,130 V144.1 Q1337,146.1 1335,146.1 H1277 Z" fill="#FF6D00"/>
<path d="M1277,145.8 H1335 Q1337,145.8 1337,147.8 V160.5 Q1337,162.5 1335,162.5 H1277 Z" fill="#000000"/>
<path d="M1277,162.1 H1335 Q1337,162.1 1337,164.1 V179.2 Q1337,181.2 1335,181.2 H1277 Z" fill="#26C6DA"/>
<path d="M1277,181 H1335 Q1337,181 1337,183 V196.9 Q1337,198.9 1335,198.9 H1277 Z" fill="#000000"/>
<line x1="1" y1="477.6" x2="1271" y2="477.6" stroke="#787b86" stroke-width="1.1" stroke-dasharray="5 6"/>
<line x1="1" y1="510.4" x2="1271" y2="510.4" stroke="#787b86" stroke-width="1.1" stroke-dasharray="5 6"/>
<line x1="1" y1="543.4" x2="1271" y2="543.4" stroke="#787b86" stroke-width="1.1" stroke-dasharray="5 6"/>
<line x1="1" y1="478" x2="1277" y2="478" stroke="#7E57C2" stroke-width="1.9" stroke-dasharray="2 4"/>
<polyline points="0.0,494.1 0.9,494.4 6.9,501.0 13.9,502.0 19.9,504.4 25.9,498.0 32.9,494.6 38.9,499.0 44.9,501.4 50.9,492.0 57.9,478.0 63.9,487.6 69.9,493.6 76.9,488.6 82.9,490.6 88.9,471.0 95.9,463.4 101.9,465.6 107.9,476.0 113.9,469.6 120.9,480.0 126.9,477.6 132.9,469.6 139.9,481.0 145.9,492.4 151.9,487.4 158.9,490.0 164.9,486.4 170.9,501.4 176.9,497.0 183.9,507.0 189.9,501.0 195.9,507.0 202.9,497.0 208.9,508.4 214.9,511.0 221.9,507.0 227.9,526.0 233.9,510.0 239.9,511.0 246.9,509.6 252.9,511.0 258.9,505.6 265.9,503.0 271.9,517.0 277.9,504.4 284.9,500.0 290.9,498.6 296.9,502.4 302.9,505.4 309.9,500.0 315.9,502.4 321.9,496.4 328.9,502.0 334.9,499.0 340.9,497.0 347.9,501.4 353.9,499.4 359.9,499.0 365.9,494.0 372.9,487.4 378.9,491.4 384.9,490.6 391.9,500.0 397.9,500.0 403.9,498.6 410.9,496.4 416.9,491.0 422.9,487.6 428.9,483.6 435.9,480.4 441.9,479.0 447.9,474.0 454.9,472.4 460.9,474.0 466.9,481.6 473.9,480.0 479.9,492.0 485.9,490.4 491.9,492.0 498.9,495.0 504.9,497.4 510.9,502.0 517.9,513.0 523.9,507.8 529.9,514.0 536.9,509.0 542.9,499.0 548.9,491.0 555.9,489.0 561.9,492.0 567.9,495.0 573.9,519.0 580.9,524.4 586.9,538.0 592.9,536.6 599.9,513.0 605.9,514.4 611.9,514.0 618.9,504.0 624.9,503.4 630.9,506.4 636.9,509.6 643.9,503.0 649.9,499.0 655.9,507.0 662.9,500.0 668.9,506.6 674.9,508.4 681.9,508.0 687.9,514.4 693.9,499.6 699.9,512.4 706.9,502.6 712.9,506.6 718.9,509.0 725.9,505.6 731.9,502.4 737.9,511.6 744.9,508.6 750.9,510.4 756.9,501.4 762.9,496.4 769.9,504.4 775.9,506.5 781.9,501.6 788.9,501.4 794.9,498.0 800.9,486.0 807.9,495.0 813.9,499.4 819.9,505.4 825.9,498.0 832.9,496.6 838.9,508.0 844.9,518.0 851.9,513.0 857.9,509.4 863.9,508.4 870.9,509.0 876.9,511.6 882.9,507.0 888.9,512.4 895.9,520.4 901.9,524.4 907.9,532.4 914.9,522.4 920.9,528.6 926.9,522.0 933.9,515.4 939.9,508.8 945.9,514.0 951.9,516.0 958.9,521.6 964.9,519.6 970.9,518.0 977.9,516.0 983.9,513.0 989.9,511.6 996.9,521.0 1002.9,527.0 1008.9,531.0 1014.9,534.0 1021.9,538.8 1027.9,536.8 1033.9,522.3 1040.9,518.4 1046.9,518.4 1052.9,514.0 1059.9,512.4 1065.9,502.6 1071.9,505.6 1078.9,513.0 1084.9,515.0 1090.9,525.6 1096.9,526.0 1103.9,528.0 1109.9,526.0 1115.9,514.0 1122.9,506.6 1128.9,506.0 1134.9,505.0 1141.9,502.4 1147.9,498.0 1153.9,489.0 1159.9,496.0 1166.9,496.4 1172.9,498.6 1178.9,502.4 1185.9,486.4 1191.9,478.0 1197.9,478.6 1204.9,476.4 1210.9,477.6" fill="none" stroke="#7E57C2" stroke-width="2.1" stroke-linejoin="round" stroke-linecap="butt"/>
<rect x="1277" y="469.1" width="45.8" height="18.6" rx="2" fill="#7E57C2"/>
<rect x="1277" y="469.1" width="4" height="18.6" fill="#7E57C2"/>
<defs><filter id="n" x="0" y="0" width="100%" height="100%" filterUnits="userSpaceOnUse" color-interpolation-filters="sRGB"><feOffset dx="0" dy="0"/></filter></defs>
<g filter="url(#n)">
<text x="1269.6" y="63.8" font-family="Liberation Sans, sans-serif" font-size="9.3" fill="#131722" stroke="#131722" stroke-width="0.2" text-anchor="end" font-weight="normal" textLength="22.0" lengthAdjust="spacingAndGlyphs" >Jul 1</text>
<text x="1270" y="91.9" font-family="Liberation Sans, sans-serif" font-size="9.3" fill="#131722" stroke="#131722" stroke-width="0.2" text-anchor="end" font-weight="normal" textLength="27.0" lengthAdjust="spacingAndGlyphs" >Jul 24</text>
<text x="1269.8" y="135.7" font-family="Liberation Sans, sans-serif" font-size="9.3" fill="#131722" stroke="#131722" stroke-width="0.2" text-anchor="end" font-weight="normal" textLength="27.6" lengthAdjust="spacingAndGlyphs" >Jul 17</text>
<text x="1286" y="29.9" font-family="Liberation Sans, sans-serif" font-size="12" fill="#131722" stroke="#131722" stroke-width="0.2" text-anchor="start" font-weight="normal" textLength="44.7" lengthAdjust="spacingAndGlyphs" >1.20000</text>
<text x="1286" y="239.8" font-family="Liberation Sans, sans-serif" font-size="12" fill="#131722" stroke="#131722" stroke-width="0.2" text-anchor="start" font-weight="normal" textLength="44.7" lengthAdjust="spacingAndGlyphs" >1.12000</text>
<text x="1286" y="291.9" font-family="Liberation Sans, sans-serif" font-size="12" fill="#131722" stroke="#131722" stroke-width="0.2" text-anchor="start" font-weight="normal" textLength="44.7" lengthAdjust="spacingAndGlyphs" >1.10000</text>
<text x="1286" y="344.1" font-family="Liberation Sans, sans-serif" font-size="12" fill="#131722" stroke="#131722" stroke-width="0.2" text-anchor="start" font-weight="normal" textLength="44.7" lengthAdjust="spacingAndGlyphs" >1.08000</text>
<text x="1286" y="396.6" font-family="Liberation Sans, sans-serif" font-size="12" fill="#131722" stroke="#131722" stroke-width="0.2" text-anchor="start" font-weight="normal" textLength="44.7" lengthAdjust="spacingAndGlyphs" >1.06000</text>
<text x="1286" y="449.1" font-family="Liberation Sans, sans-serif" font-size="12" fill="#131722" stroke="#131722" stroke-width="0.2" text-anchor="start" font-weight="normal" textLength="44.7" lengthAdjust="spacingAndGlyphs" >1.04000</text>
<text x="1286.6" y="60.2" font-family="Liberation Sans, sans-serif" font-size="12" fill="#ffffff" stroke="#ffffff" stroke-width="0.3" text-anchor="start" font-weight="normal" textLength="44.4" lengthAdjust="spacingAndGlyphs" >1.18300</text>
<text x="1286.6" y="78.2" font-family="Liberation Sans, sans-serif" font-size="12" fill="#ffffff" stroke="#ffffff" stroke-width="0.3" text-anchor="start" font-weight="normal" textLength="44.4" lengthAdjust="spacingAndGlyphs" >1.17890</text>
<text x="1286.6" y="95.9" font-family="Liberation Sans, sans-serif" font-size="12" fill="#ffffff" stroke="#ffffff" stroke-width="0.3" text-anchor="start" font-weight="normal" textLength="44.4" lengthAdjust="spacingAndGlyphs" >1.17478</text>
<text x="1286.6" y="122.9" font-family="Liberation Sans, sans-serif" font-size="12" fill="#ffffff" stroke="#ffffff" stroke-width="0.3" text-anchor="start" font-weight="normal" textLength="44.4" lengthAdjust="spacingAndGlyphs" >1.16463</text>
<text x="1286.6" y="141.2" font-family="Liberation Sans, sans-serif" font-size="12" fill="#ffffff" stroke="#ffffff" stroke-width="0.3" text-anchor="start" font-weight="normal" textLength="44.4" lengthAdjust="spacingAndGlyphs" >1.16081</text>
<text x="1286.6" y="157.9" font-family="Liberation Sans, sans-serif" font-size="12" fill="#ffffff" stroke="#ffffff" stroke-width="0.3" text-anchor="start" font-weight="normal" textLength="44.4" lengthAdjust="spacingAndGlyphs" >1.15568</text>
<text x="1286.6" y="176.1" font-family="Liberation Sans, sans-serif" font-size="12" fill="#131722" stroke="#131722" stroke-width="0.3" text-anchor="start" font-weight="normal" textLength="44.4" lengthAdjust="spacingAndGlyphs" >1.14918</text>
<text x="1286.6" y="194.0" font-family="Liberation Sans, sans-serif" font-size="12" fill="#ffffff" stroke="#ffffff" stroke-width="0.3" text-anchor="start" font-weight="normal" textLength="44.4" lengthAdjust="spacingAndGlyphs" >1.14688</text>
<text x="9.4" y="21.0" font-family="Liberation Sans, sans-serif" font-size="12.3" fill="#131722" stroke="#131722" stroke-width="0.12" text-anchor="start" font-weight="normal" textLength="54.9" lengthAdjust="spacingAndGlyphs" >EUR/USD,</text>
<text x="68.0" y="21.0" font-family="Liberation Sans, sans-serif" font-size="12.3" fill="#131722" stroke="#131722" stroke-width="0.12" text-anchor="start" font-weight="normal" textLength="15.5" lengthAdjust="spacingAndGlyphs" >1D</text>
<text x="90.0" y="21.0" font-family="Liberation Sans, sans-serif" font-size="12.3" fill="#131722" stroke="#131722" stroke-width="0.12" text-anchor="start" font-weight="normal" textLength="9.5" lengthAdjust="spacingAndGlyphs" >O</text>
<text x="99.6" y="21.0" font-family="Liberation Sans, sans-serif" font-size="12.3" fill="#F23645" stroke="#F23645" stroke-width="0.2" text-anchor="start" font-weight="normal" textLength="43.6" lengthAdjust="spacingAndGlyphs" >1.17510</text>
<text x="150.2" y="21.0" font-family="Liberation Sans, sans-serif" font-size="12.3" fill="#131722" stroke="#131722" stroke-width="0.12" text-anchor="start" font-weight="normal" textLength="9.4" lengthAdjust="spacingAndGlyphs" >H</text>
<text x="159.2" y="21.0" font-family="Liberation Sans, sans-serif" font-size="12.3" fill="#F23645" stroke="#F23645" stroke-width="0.2" text-anchor="start" font-weight="normal" textLength="43.6" lengthAdjust="spacingAndGlyphs" >1.18041</text>
<text x="210.9" y="21.0" font-family="Liberation Sans, sans-serif" font-size="12.3" fill="#131722" stroke="#131722" stroke-width="0.12" text-anchor="start" font-weight="normal" textLength="6.9" lengthAdjust="spacingAndGlyphs" >L</text>
<text x="218.5" y="21.0" font-family="Liberation Sans, sans-serif" font-size="12.3" fill="#F23645" stroke="#F23645" stroke-width="0.2" text-anchor="start" font-weight="normal" textLength="43.0" lengthAdjust="spacingAndGlyphs" >1.17348</text>
<text x="268.9" y="21.0" font-family="Liberation Sans, sans-serif" font-size="12.3" fill="#131722" stroke="#131722" stroke-width="0.12" text-anchor="start" font-weight="normal" textLength="8.4" lengthAdjust="spacingAndGlyphs" >C</text>
<text x="277.3" y="21.0" font-family="Liberation Sans, sans-serif" font-size="12.3" fill="#F23645" stroke="#F23645" stroke-width="0.2" text-anchor="start" font-weight="normal" textLength="43.2" lengthAdjust="spacingAndGlyphs" >1.17478</text>
<text x="329" y="21.0" font-family="Liberation Sans, sans-serif" font-size="12.3" fill="#F23645" stroke="#F23645" stroke-width="0.2" text-anchor="start" font-weight="normal" textLength="49.6" lengthAdjust="spacingAndGlyphs" >−0.00032</text>
<text x="384.5" y="21.0" font-family="Liberation Sans, sans-serif" font-size="12.3" fill="#F23645" stroke="#F23645" stroke-width="0.2" text-anchor="start" font-weight="normal" textLength="46.0" lengthAdjust="spacingAndGlyphs" >(−0.03%)</text>
<text x="9.0" y="38.6" font-family="Liberation Sans, sans-serif" font-size="12.3" fill="#131722" stroke="#131722" stroke-width="0.12" text-anchor="start" font-weight="normal" textLength="38.8" lengthAdjust="spacingAndGlyphs" >Moving</text>
<text x="51.7" y="38.6" font-family="Liberation Sans, sans-serif" font-size="12.3" fill="#131722" stroke="#131722" stroke-width="0.12" text-anchor="start" font-weight="normal" textLength="43.6" lengthAdjust="spacingAndGlyphs" >Average</text>
<text x="99.6" y="38.6" font-family="Liberation Sans, sans-serif" font-size="12.3" fill="#131722" stroke="#131722" stroke-width="0.12" text-anchor="start" font-weight="normal" textLength="31.8" lengthAdjust="spacingAndGlyphs" >Triple</text>
<text x="136.9" y="38.6" font-family="Liberation Sans, sans-serif" font-size="12.3" fill="#131722" stroke="#131722" stroke-width="0.12" text-anchor="start" font-weight="normal" textLength="20.9" lengthAdjust="spacingAndGlyphs" >(50,</text>
<text x="161.0" y="38.6" font-family="Liberation Sans, sans-serif" font-size="12.3" fill="#131722" stroke="#131722" stroke-width="0.12" text-anchor="start" font-weight="normal" textLength="24.7" lengthAdjust="spacingAndGlyphs" >100,</text>
<text x="189.1" y="38.6" font-family="Liberation Sans, sans-serif" font-size="12.3" fill="#131722" stroke="#131722" stroke-width="0.12" text-anchor="start" font-weight="normal" textLength="23.9" lengthAdjust="spacingAndGlyphs" >200,</text>
<text x="218.2" y="38.6" font-family="Liberation Sans, sans-serif" font-size="12.3" fill="#131722" stroke="#131722" stroke-width="0.12" text-anchor="start" font-weight="normal" textLength="42.0" lengthAdjust="spacingAndGlyphs" >Simple)</text>
<text x="269.6" y="38.6" font-family="Liberation Sans, sans-serif" font-size="12.3" fill="#FF6D00" stroke="#FF6D00" stroke-width="0.2" text-anchor="start" font-weight="normal" textLength="42.3" lengthAdjust="spacingAndGlyphs" >1.16081</text>
<text x="321.5" y="38.6" font-family="Liberation Sans, sans-serif" font-size="12.3" fill="#2196F3" stroke="#2196F3" stroke-width="0.2" text-anchor="start" font-weight="normal" textLength="42.9" lengthAdjust="spacingAndGlyphs" >1.16463</text>
<text x="373.1" y="38.6" font-family="Liberation Sans, sans-serif" font-size="12.3" fill="#26C6DA" stroke="#26C6DA" stroke-width="0.2" text-anchor="start" font-weight="normal" textLength="43.6" lengthAdjust="spacingAndGlyphs" >1.14918</text>
<text x="9.4" y="474" font-family="Liberation Sans, sans-serif" font-size="12.3" fill="#131722" stroke="#131722" stroke-width="0.2" text-anchor="start" font-weight="normal" textLength="42" lengthAdjust="spacingAndGlyphs" >RSI (14)</text>
<text x="60" y="474" font-family="Liberation Sans, sans-serif" font-size="12.3" fill="#7E57C2" stroke="#7E57C2" stroke-width="0.2" text-anchor="start" font-weight="normal" textLength="31" lengthAdjust="spacingAndGlyphs" >69.44</text>
<text x="1285.3" y="465.09999999999997" font-family="Liberation Sans, sans-serif" font-size="12" fill="#131722" stroke="#131722" stroke-width="0.2" text-anchor="start" font-weight="normal" textLength="31.8" lengthAdjust="spacingAndGlyphs" >80.00</text>
<text x="1285.3" y="497.9" font-family="Liberation Sans, sans-serif" font-size="12" fill="#131722" stroke="#131722" stroke-width="0.2" text-anchor="start" font-weight="normal" textLength="31.8" lengthAdjust="spacingAndGlyphs" >60.00</text>
<text x="1285.3" y="530.6999999999999" font-family="Liberation Sans, sans-serif" font-size="12" fill="#131722" stroke="#131722" stroke-width="0.2" text-anchor="start" font-weight="normal" textLength="31.8" lengthAdjust="spacingAndGlyphs" >40.00</text>
<text x="1286.1" y="482.7" font-family="Liberation Sans, sans-serif" font-size="12" fill="#ffffff" stroke="#ffffff" stroke-width="0.3" text-anchor="start" font-weight="normal" textLength="32.4" lengthAdjust="spacingAndGlyphs" >69.44</text>
<text x="45.2" y="570.9" font-family="Liberation Sans, sans-serif" font-size="13" fill="#131722" stroke="#131722" stroke-width="0.3" text-anchor="middle" font-weight="normal" textLength="21.6" lengthAdjust="spacingAndGlyphs" >Apr</text>
<text x="183.6" y="570.9" font-family="Liberation Sans, sans-serif" font-size="13" fill="#131722" stroke="#131722" stroke-width="0.3" text-anchor="middle" font-weight="normal" textLength="23.1" lengthAdjust="spacingAndGlyphs" >May</text>
<text x="322.25" y="570.9" font-family="Liberation Sans, sans-serif" font-size="13" fill="#131722" stroke="#131722" stroke-width="0.3" text-anchor="middle" font-weight="normal" textLength="23.0" lengthAdjust="spacingAndGlyphs" >Jun</text>
<text x="454.25" y="570.9" font-family="Liberation Sans, sans-serif" font-size="13" fill="#131722" stroke="#131722" stroke-width="0.3" text-anchor="middle" font-weight="normal" textLength="18.5" lengthAdjust="spacingAndGlyphs" >Jul</text>
<text x="599.9" y="570.9" font-family="Liberation Sans, sans-serif" font-size="13" fill="#131722" stroke="#131722" stroke-width="0.3" text-anchor="middle" font-weight="normal" textLength="22.25" lengthAdjust="spacingAndGlyphs" >Aug</text>
<text x="731.9" y="570.9" font-family="Liberation Sans, sans-serif" font-size="13" fill="#131722" stroke="#131722" stroke-width="0.3" text-anchor="middle" font-weight="normal" textLength="22.25" lengthAdjust="spacingAndGlyphs" >Sep</text>
<text x="870.25" y="570.9" font-family="Liberation Sans, sans-serif" font-size="13" fill="#131722" stroke="#131722" stroke-width="0.3" text-anchor="middle" font-weight="normal" textLength="20.5" lengthAdjust="spacingAndGlyphs" >Oct</text>
<text x="1015.6" y="570.9" font-family="Liberation Sans, sans-serif" font-size="13" fill="#131722" stroke="#131722" stroke-width="0.3" text-anchor="middle" font-weight="normal" textLength="23.25" lengthAdjust="spacingAndGlyphs" >Nov</text>
<text x="1141.6" y="570.9" font-family="Liberation Sans, sans-serif" font-size="13" fill="#131722" stroke="#131722" stroke-width="0.3" text-anchor="middle" font-weight="normal" textLength="22.75" lengthAdjust="spacingAndGlyphs" >Dec</text>
<text x="1230" y="570.9" font-family="Liberation Sans, sans-serif" font-size="12.2" fill="#131722" stroke="#131722" stroke-width="0.15" text-anchor="middle" font-weight="normal" textLength="13.6" lengthAdjust="spacingAndGlyphs" >19</text>
</g>
<g shape-rendering="crispEdges">
<rect x="0" y="0" width="1340" height="1" fill="#eff1f5"/>
<rect x="0" y="1" width="1340" height="1" fill="#eff1f5" fill-opacity="0.6"/>
<rect x="0" y="0" width="1" height="582" fill="#eff1f5"/>
<rect x="1" y="0" width="1" height="582" fill="#eff1f5" fill-opacity="0.7"/>
<rect x="1338" y="0" width="2" height="582" fill="#eff1f5"/>
<rect x="0" y="580" width="1340" height="2" fill="#eff1f5"/>
</g>
</svg>
</body></html>
